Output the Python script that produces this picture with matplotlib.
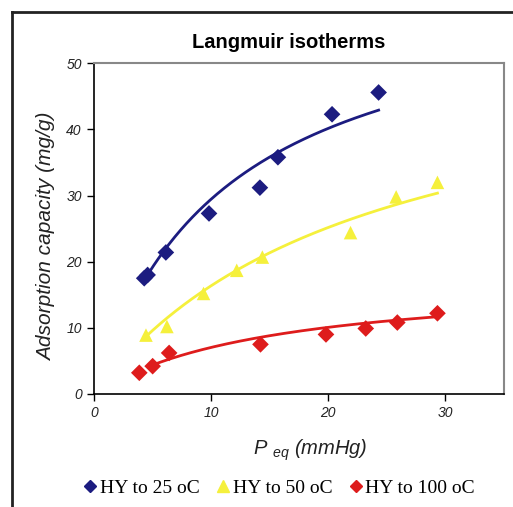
import numpy as np
import matplotlib
matplotlib.use("Agg")
import matplotlib.pyplot as plt
from matplotlib.lines import Line2D

plt.rcParams["font.family"] = ["Liberation Sans", "DejaVu Sans"]
plt.rcParams["mathtext.fontset"] = "custom"
plt.rcParams["mathtext.it"] = "Liberation Sans:italic"
plt.rcParams["mathtext.rm"] = "Liberation Sans"

# Measured equilibrium pressure (mmHg) and adsorption capacity (mg/g)
p_25 = [4.26, 4.55, 6.11, 9.80, 14.15, 15.69, 20.32, 24.3]
q_25 = [17.5, 18.0, 21.4, 27.3, 31.2, 35.8, 42.3, 45.6]

p_50 = [4.41, 6.2, 9.33, 12.17, 14.36, 21.9, 25.8, 29.33]
q_50 = [8.9, 10.2, 15.2, 18.7, 20.7, 24.4, 29.8, 32.0]

p_100 = [3.84, 4.98, 6.39, 14.2, 19.8, 23.2, 25.9, 29.33]
q_100 = [3.2, 4.2, 6.2, 7.5, 9.0, 9.9, 10.8, 12.2]

# Langmuir parameters q = qm*K*P / (1 + K*P) and the pressure span of each fit
qm_fit = {"25": 63.0, "50": 54.4, "100": 17.7}
k_fit = {"25": 0.088, "50": 0.0431, "100": 0.0661}
p_range = {"25": (4.26, 24.3), "50": (4.41, 29.33), "100": (4.98, 29.33)}

labels = ["HY to 25 oC", "HY to 50 oC", "HY to 100 oC"]
colors = ["#1c1c80", "#f5f03c", "#de1c1c"]
markers = ["D", "^", "D"]

fig = plt.figure(figsize=(5.13, 5.07), dpi=100)
ax = fig.add_axes([0.184, 0.223, 0.798, 0.652])

series = [("25", p_25, q_25), ("50", p_50, q_50), ("100", p_100, q_100)]
for (key, p, q), c, m in zip(series, colors, markers):
    lo, hi = p_range[key]
    pp = np.linspace(lo, hi, 200)
    kp = k_fit[key] * pp
    ax.plot(pp, qm_fit[key] * kp / (1 + kp), color=c, lw=2, zorder=2)
    ax.scatter(p, q, marker=m, s=72 if m == "D" else 95, color=c,
               edgecolors="none", zorder=3)

ax.set_xlim(0, 35)
ax.set_ylim(0, 50)
ax.set_xticks([0, 10, 20, 30])
ax.set_yticks([0, 10, 20, 30, 40, 50])
ax.tick_params(direction="out", length=5, width=1, colors="black",
               labelcolor="#222222", labelsize=10)
for lab in ax.get_xticklabels() + ax.get_yticklabels():
    lab.set_fontstyle("italic")
ax.tick_params(axis="x", pad=4)
ax.tick_params(axis="y", pad=4)

ax.spines["left"].set_color("black")
ax.spines["bottom"].set_color("black")
ax.spines["left"].set_linewidth(1.2)
ax.spines["bottom"].set_linewidth(1.2)
ax.spines["top"].set_color("#888888")
ax.spines["right"].set_color("#888888")
ax.spines["top"].set_linewidth(1.5)
ax.spines["right"].set_linewidth(1.5)

fig.text(289 / 513, 1 - 42 / 507, "Langmuir isotherms", fontsize=14.5,
         fontweight="bold", ha="center", va="center")
ax.set_xlabel(r"$P$ $_{eq}$ (mmHg)", fontsize=14.5, fontstyle="italic",
              color="#222222")
ax.xaxis.set_label_coords(0.527, -0.133)
ax.set_ylabel("Adsorption capacity (mg/g)", fontsize=15, fontstyle="italic",
              color="#222222")
ax.yaxis.set_label_coords(-0.094, 0.475)

handles = [Line2D([], [], ls="none", marker=m, color=c,
                  markersize=6 if m == "D" else 8)
           for m, c in zip(markers, colors)]
fig.legend(handles, labels, loc="center", bbox_to_anchor=(0.545, 0.037),
           ncol=3, frameon=False, handlelength=0.6, handletextpad=0.2,
           columnspacing=0.9,
           prop={"family": "Liberation Serif", "size": 14})

# Outer chart border
fig.add_artist(Line2D([12 / 513, 12 / 513], [-0.01, 1 - 12 / 507],
                      transform=fig.transFigure, color="#222222", lw=2))
fig.add_artist(Line2D([12 / 513, 1.01], [1 - 12 / 507, 1 - 12 / 507],
                      transform=fig.transFigure, color="#222222", lw=2))

fig.savefig("out.png", dpi=100, facecolor="white")
